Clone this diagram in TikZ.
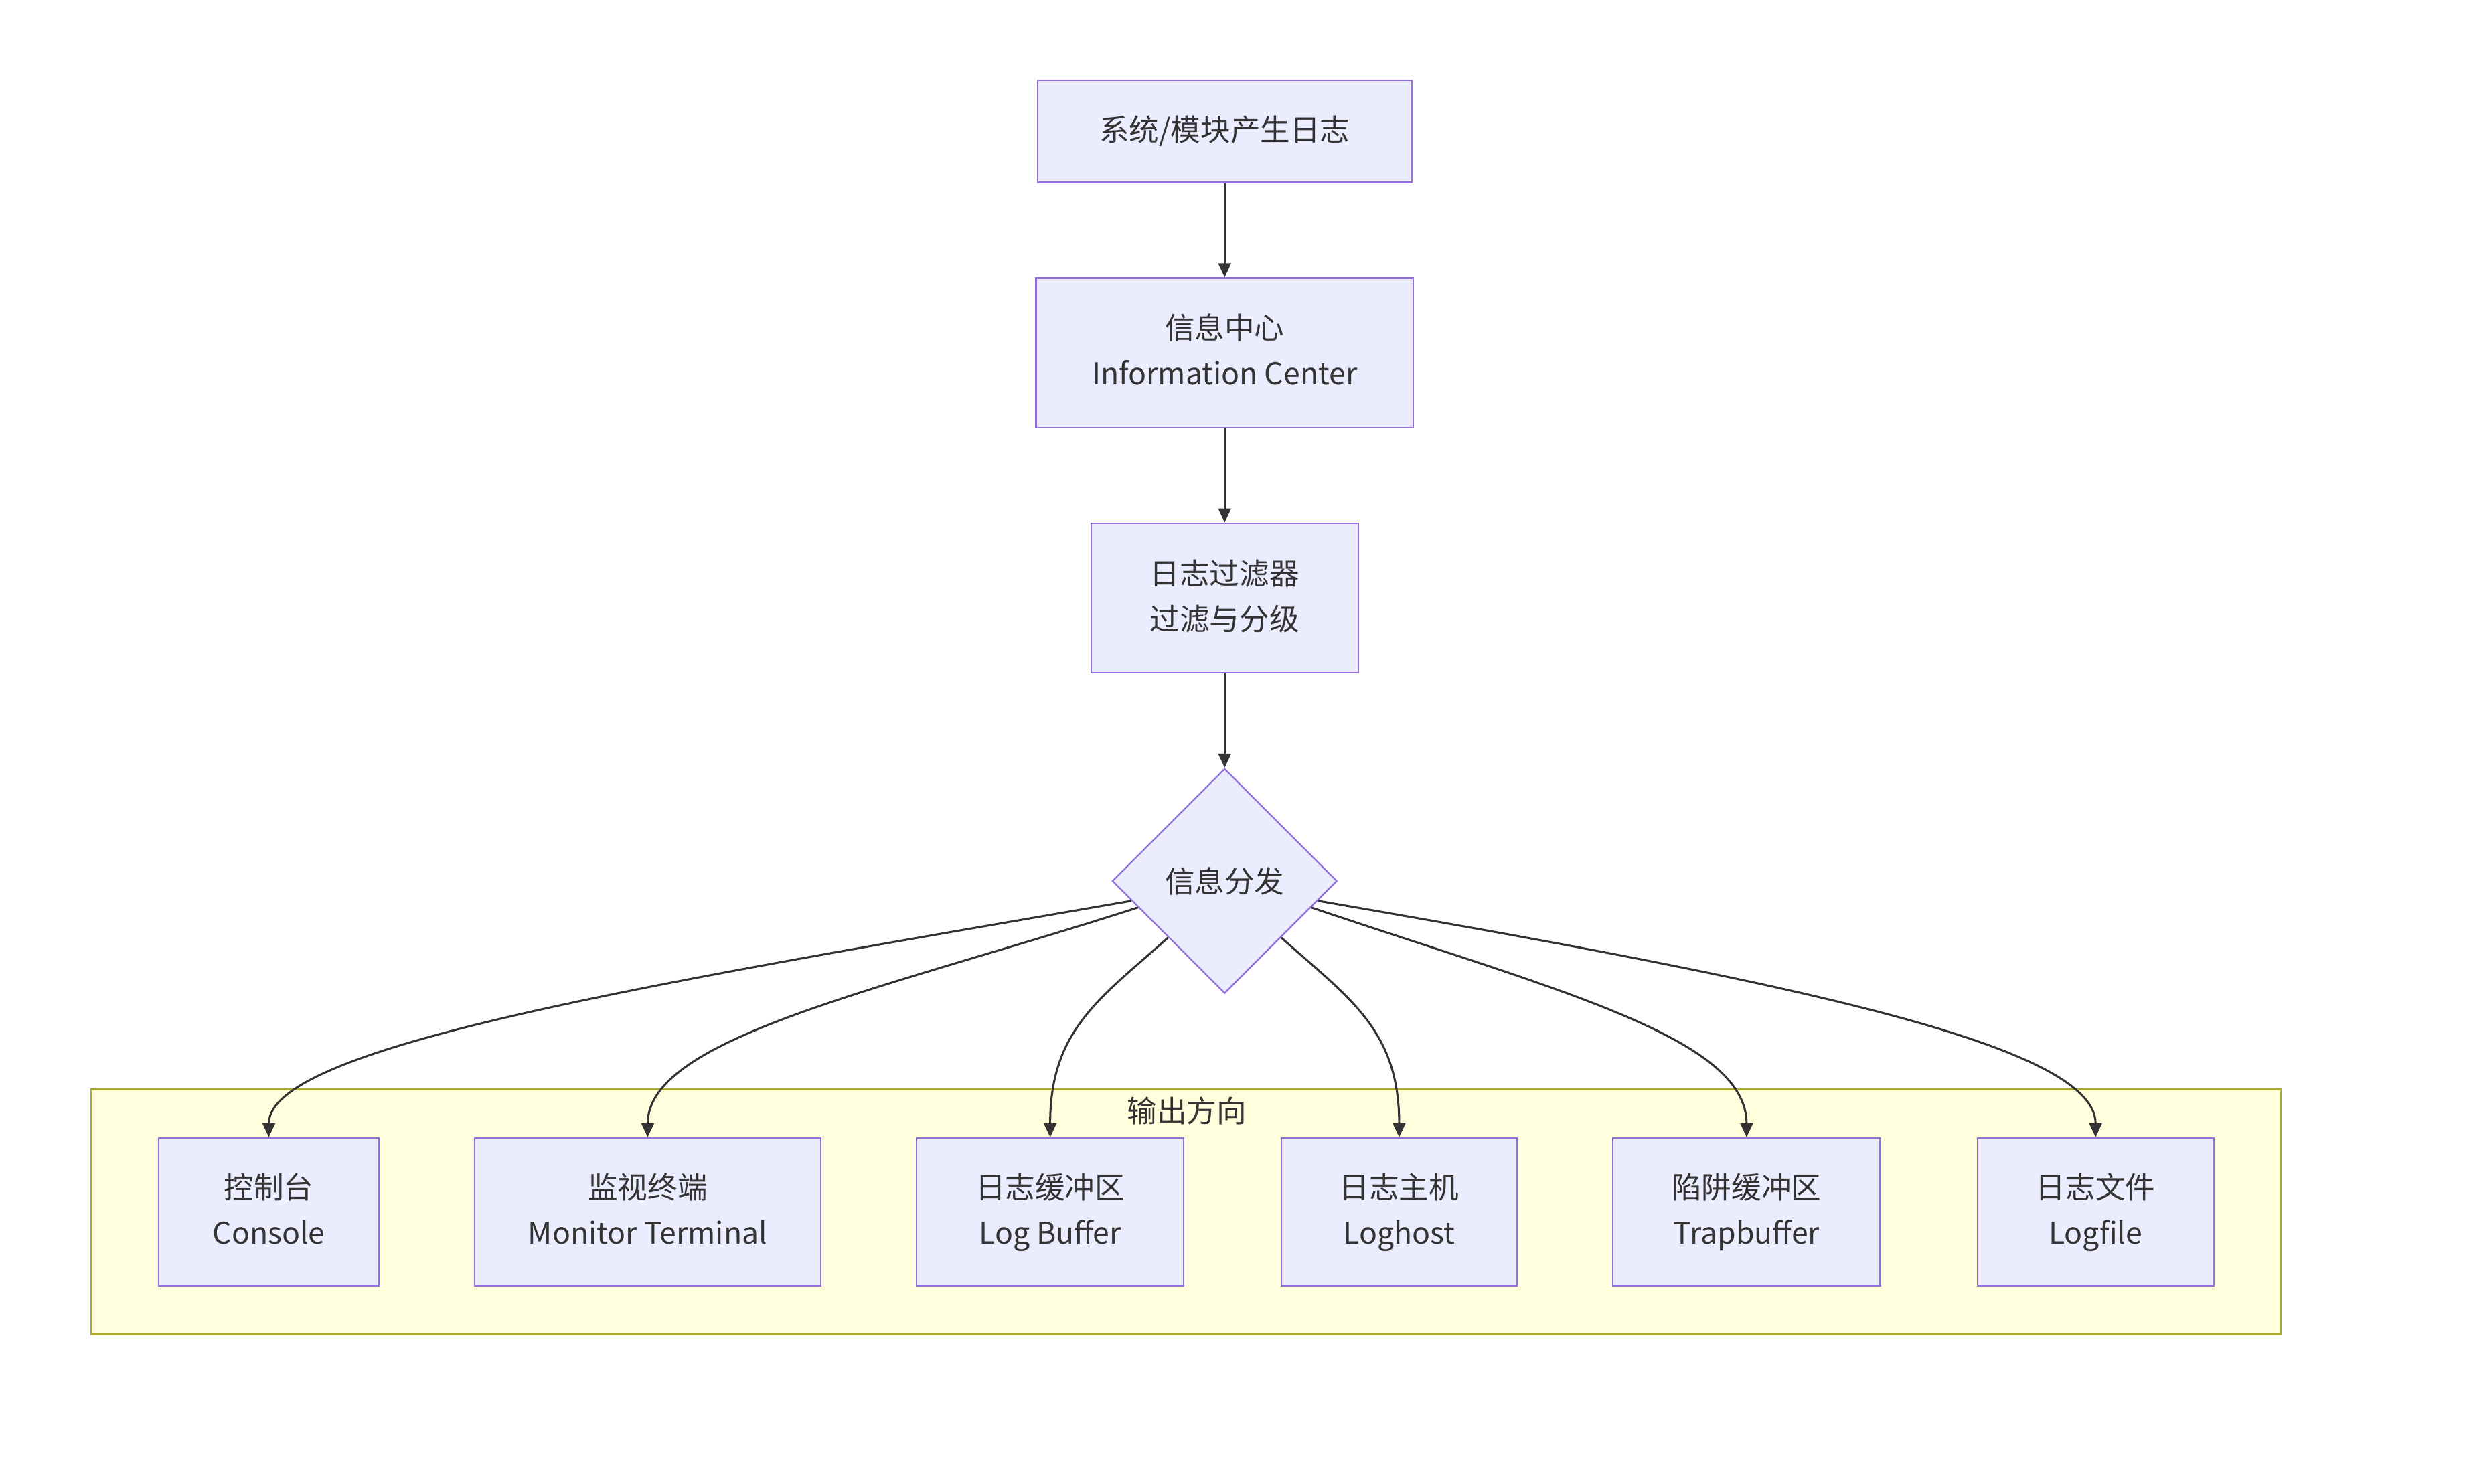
\documentclass[tikz,border=0pt]{standalone}
\usepackage{fontspec}
\setmainfont{Noto Sans CJK SC}
\usetikzlibrary{shapes.geometric,arrows.meta}
\definecolor{nodefill}{HTML}{ECECFF}
\definecolor{nodeline}{HTML}{9370DB}
\definecolor{txt}{HTML}{333333}
\definecolor{subfill}{HTML}{FFFFDE}
\definecolor{subline}{HTML}{AAAA33}
\newcommand{\twoline}[2]{\strut #1\\\strut #2}
\begin{document}
\begin{tikzpicture}[x=1pt,y=-1pt,
  box/.style={draw=nodeline, fill=nodefill, line width=1pt, text=txt, align=center,
    font=\fontsize{19}{29}\selectfont, inner sep=0pt},
  lbl/.style={text=txt, font=\fontsize{19}{29}\selectfont, inner sep=0pt},
  arr/.style={draw=txt, line width=1.3pt, -{Triangle[length=9pt,width=8pt]}}]
\useasboundingbox (0,0) rectangle (1568,944.1);
% subgraph
\node[draw=subline, fill=subfill, line width=1pt, minimum width=1393pt, minimum height=156pt, inner sep=0pt] (grp) at (754.5,771) {};
\node[lbl] (grplabel) at (755,706.5) {输出方向};
% main chain
\node[box, minimum width=238pt, minimum height=65pt] (top) at (779,83.5) {系统/模块产生日志};
\node[box, minimum width=240pt, minimum height=95pt] (info) at (779,224.5) {\twoline{信息中心}{Information Center}};
\node[box, minimum width=170pt, minimum height=95pt] (filter) at (779,380.5) {\twoline{日志过滤器}{过滤与分级}};
\node[box, shape=diamond, aspect=1, minimum width=143pt, minimum height=143pt] (dec) at (779,560.5) {信息分发};
% outputs
\node[box, minimum width=140pt, minimum height=94pt] (console) at (171,771) {\twoline{控制台}{Console}};
\node[box, minimum width=220pt, minimum height=94pt] (monitor) at (412,771) {\twoline{监视终端}{Monitor Terminal}};
\node[box, minimum width=170pt, minimum height=94pt] (logbuf) at (668,771) {\twoline{日志缓冲区}{Log Buffer}};
\node[box, minimum width=150pt, minimum height=94pt] (loghost) at (890,771) {\twoline{日志主机}{Loghost}};
\node[box, minimum width=170pt, minimum height=94pt] (trap) at (1111,771) {\twoline{陷阱缓冲区}{Trapbuffer}};
\node[box, minimum width=150pt, minimum height=94pt] (logfile) at (1333,771) {\twoline{日志文件}{Logfile}};
% edges
\draw[arr] (top) -- (info);
\draw[arr] (info) -- (filter);
\draw[arr] (filter) -- (dec);
\draw[arr] (dec.192) .. controls (420,625) and (171,665) .. (console.north);
\draw[arr] (dec.197) .. controls (560,630) and (412,660) .. (monitor.north);
\draw[arr] (dec.225) .. controls (700,635) and (668,655) .. (logbuf.north);
\draw[arr] (dec.315) .. controls (858,635) and (890,655) .. (loghost.north);
\draw[arr] (dec.343) .. controls (990,630) and (1111,660) .. (trap.north);
\draw[arr] (dec.348) .. controls (1140,625) and (1333,665) .. (logfile.north);
\end{tikzpicture}
\end{document}
